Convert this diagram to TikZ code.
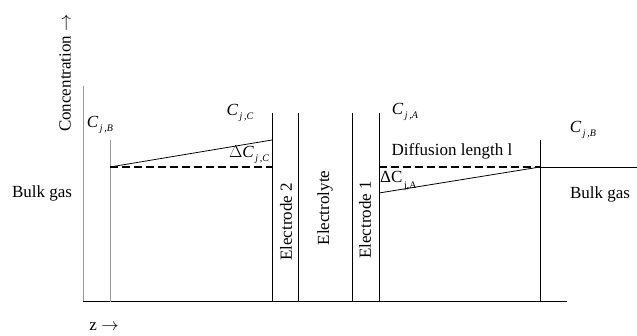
\documentclass[tikz,border=0pt]{standalone}
\usepackage{fontspec}
\setmainfont{Liberation Serif}
\newcommand\csubi[2]{{\itshape #1}\raisebox{-0.5ex}{\fontsize{10}{10}\selectfont\itshape\,#2}}
\newcommand\csubr[2]{#1\raisebox{-0.7ex}{\fontsize{10}{10}\selectfont\,#2}}
\begin{document}
\begin{tikzpicture}[x=1pt,y=1pt,
  lbl/.style={inner sep=0pt,font=\fontsize{17}{20}\selectfont},
  axis/.style={line width=1pt},
  wall/.style={line width=0.9pt},
  grayline/.style={line width=1pt,draw=gray!80},
  prof/.style={line width=0.8pt},
  dashline/.style={line width=1.6pt,dash pattern=on 8pt off 4pt}]
\useasboundingbox (0,0) rectangle (637,336);
% coordinates
\coordinate (O) at (83,34);
\coordinate (Ytop) at (83,250);
\coordinate (Xend) at (567,34);
\coordinate (Lt) at (110,196); \coordinate (Lb) at (110,34);
\coordinate (E2at) at (272,223); \coordinate (E2ab) at (272,34);
\coordinate (E2bt) at (298,223); \coordinate (E2bb) at (298,34);
\coordinate (E1at) at (352,223); \coordinate (E1ab) at (352,34);
\coordinate (E1bt) at (379,223); \coordinate (E1bb) at (379,34);
\coordinate (Rt) at (540,196); \coordinate (Rb) at (540,34);
\coordinate (LdA) at (110,169); \coordinate (LdB) at (272,169);
\coordinate (LsB) at (272,196);
\coordinate (RdA) at (379,169); \coordinate (RdB) at (540,169);
\coordinate (RsA) at (379,143);
\coordinate (Rend) at (637,169);
% axes and walls
\draw[grayline] (Ytop) -- (O);
\draw[axis] (O) -- (Xend);
\draw[grayline] (Lt) -- (Lb);
\draw[wall] (E2at) -- (E2ab);
\draw[wall] (E2bt) -- (E2bb);
\draw[wall] (E1at) -- (E1ab);
\draw[wall] (E1bt) -- (E1bb);
\draw[wall] (Rt) -- (Rb);
% profiles
\draw[dashline] (LdA) -- (LdB);
\draw[prof] (LdA) -- (LsB);
\draw[dashline] (RdA) -- (RdB);
\draw[prof] (RsA) -- (RdB);
\draw[prof] (RdB) -- (Rend);
% labels
\node[lbl,rotate=90] (conc) at (65,263) {Concentration $\rightarrow$};
\node[lbl] (zax) at (104,9) {z $\rightarrow$};
\node[lbl] (cjb1) at (100,211) {\csubi{C}{j\,,B}};
\node[lbl] (cjc) at (240,223) {\csubi{C}{j\,,C}};
\node[lbl] (dcjc) at (249,181) {\csubi{$\Delta$C}{j\,,C}};
\node[lbl] (bulk1) at (42,143) {Bulk gas};
\node[lbl,rotate=90] (el2) at (286,114) {Electrode 2};
\node[lbl,rotate=90] (ely) at (325,128) {Electrolyte};
\node[lbl,rotate=90] (el1) at (365,116) {Electrode 1};
\node[lbl] (cja) at (405,224) {\csubi{C}{j\,,A}};
\node[lbl] (cjb2) at (583,206) {\csubi{C}{j\,,B}};
\node[lbl] (diff) at (452,185) {Diffusion length l};
\node[lbl,anchor=west] (dcja) at (380,155) {\csubr{ΔC}{j,A}};
\node[lbl] (bulk2) at (600,142) {Bulk gas};
\end{tikzpicture}
\end{document}
